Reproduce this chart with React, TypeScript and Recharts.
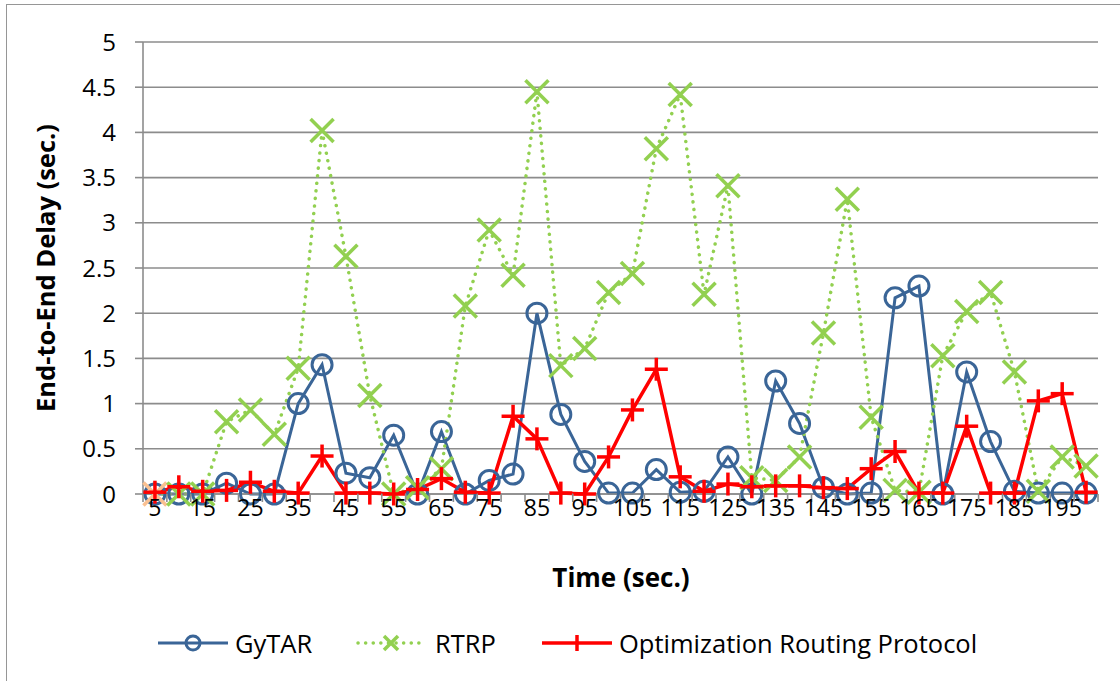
import React from "react";
import { LineChart, Line, XAxis, YAxis, CartesianGrid } from "recharts";

const CATEGORIES = [5, 10, 15, 20, 25, 30, 35, 40, 45, 50, 55, 60, 65, 70, 75, 80, 85, 90, 95, 100, 105, 110, 115, 120, 125, 130, 135, 140, 145, 150, 155, 160, 165, 170, 175, 180, 185, 190, 195, 200];
const GYTAR = [0, 0, 0, 0.12, 0, 0, 1.0, 1.43, 0.23, 0.18, 0.65, 0, 0.69, 0, 0.15, 0.22, 2.0, 0.88, 0.36, 0.01, 0.01, 0.27, 0.02, 0.03, 0.41, 0, 1.25, 0.78, 0.07, 0, 0.01, 2.17, 2.3, 0, 1.35, 0.58, 0.03, 0.01, 0.01, 0.01];
const RTRP = [0, 0, 0, 0.8, 0.93, 0.66, 1.39, 4.02, 2.63, 1.09, 0, 0.07, 0.28, 2.08, 2.92, 2.42, 4.45, 1.42, 1.61, 2.23, 2.44, 3.82, 4.42, 2.21, 3.41, 0.18, 0.15, 0.41, 1.78, 3.26, 0.85, 0.04, 0.02, 1.53, 2.02, 2.23, 1.35, 0.03, 0.41, 0.31];
const ORP = [0.02, 0.08, 0.03, 0.04, 0.13, 0.03, 0.01, 0.42, 0.01, 0.01, 0, 0.05, 0.17, 0.02, 0.01, 0.86, 0.61, 0.01, 0, 0.41, 0.93, 1.38, 0.19, 0.03, 0.11, 0.08, 0.09, 0.09, 0.07, 0.06, 0.28, 0.47, 0.01, 0.01, 0.75, 0.01, 0.01, 1.03, 1.11, 0.02];
const Y_TICKS = [0, 0.5, 1, 1.5, 2, 2.5, 3, 3.5, 4, 4.5, 5];
const SERIES_NAMES = ["GyTAR", "RTRP", "Optimization Routing Protocol"];
const X_TITLE = "Time (sec.)";
const Y_TITLE = "End-to-End Delay (sec.)";

const BLUE = "#3A6597";
const GREEN = "#92D050";
const PEACH = "#FAC090";
const RED = "#FF0000";
const GRID = "#8C8C8C";
const FONT = "'Open Sans', sans-serif";

const data = CATEGORIES.map((t, i) => ({ t, gytar: GYTAR[i], rtrp: RTRP[i], orp: ORP[i] }));

const W = 1120;
const H = 681;
const MARGIN = { top: 42, right: 22, bottom: 147, left: 83 };
const Y_AXIS_W = 60;
const X_AXIS_H = 40;
const PLOT_W = W - MARGIN.left - MARGIN.right - Y_AXIS_W;
const AXIS_Y = H - MARGIN.bottom - X_AXIS_H;
const BAND = PLOT_W / CATEGORIES.length;

const CircleDot = (props: any) => {
  const { cx, cy, index } = props;
  if (cx == null || cy == null) return <g key={`c${index}`} />;
  return <circle key={`c${index}`} cx={cx} cy={cy} r={10} fill="none" stroke={BLUE} strokeWidth={3} />;
};

const CrossDot = (props: any) => {
  const { cx, cy, index } = props;
  if (cx == null || cy == null) return <g key={`x${index}`} />;
  const s = 11.5;
  const c = index === 0 ? PEACH : GREEN;
  return (
    <g key={`x${index}`} stroke={c} strokeWidth={3.5}>
      <line x1={cx - s} y1={cy - s} x2={cx + s} y2={cy + s} />
      <line x1={cx - s} y1={cy + s} x2={cx + s} y2={cy - s} />
    </g>
  );
};

const PlusDot = (props: any) => {
  const { cx, cy, index } = props;
  if (cx == null || cy == null) return <g key={`p${index}`} />;
  const s = 11.5;
  return (
    <g key={`p${index}`} stroke={RED} strokeWidth={3.5}>
      <line x1={cx - s} y1={cy} x2={cx + s} y2={cy} />
      <line x1={cx} y1={cy - s} x2={cx} y2={cy + s} />
    </g>
  );
};

const XTick = (props: any) => {
  const { x, payload, index } = props;
  return (
    <g>
      <line x1={x - BAND / 2} y1={AXIS_Y} x2={x - BAND / 2} y2={AXIS_Y + 8} stroke={GRID} strokeWidth={1.6} />
      {index === CATEGORIES.length - 1 && (
        <line x1={x + BAND / 2} y1={AXIS_Y} x2={x + BAND / 2} y2={AXIS_Y + 8} stroke={GRID} strokeWidth={1.6} />
      )}
      {index % 2 === 0 && (
        <text x={x} y={AXIS_Y + 5} dy="0.75em" textAnchor="middle" fontFamily={FONT} fontSize={23} fill="#000">
          {payload.value}
        </text>
      )}
    </g>
  );
};

export default function App() {
  return (
    <div style={{ position: "absolute", left: 0, top: 0, width: W, height: H, background: "#fff", overflow: "hidden" }}>
      <div style={{ position: "absolute", left: 6, top: 4, width: W, height: H, border: "1.5px solid #969696", boxSizing: "border-box" }} />
      <div style={{ position: "absolute", left: 0, top: 0 }}>
        <LineChart width={W} height={H} data={data} margin={MARGIN}>
          <CartesianGrid horizontal vertical={false} stroke={GRID} strokeWidth={1.6} />
          <XAxis
            dataKey="t"
            type="category"
            interval={0}
            padding={{ left: BAND / 2, right: BAND / 2 }}
            tick={<XTick />}
            tickLine={false}
            height={X_AXIS_H}
            axisLine={{ stroke: GRID, strokeWidth: 1.6 }}
          />
          <YAxis
            domain={[0, 5]}
            ticks={Y_TICKS}
            width={Y_AXIS_W}
            tickSize={8}
            tickMargin={19}
            tickLine={{ stroke: GRID, strokeWidth: 1.6 }}
            axisLine={{ stroke: GRID, strokeWidth: 1.6 }}
            tick={{ fill: "#000", fontSize: 24, fontFamily: FONT }}
            interval={0}
          />
          <Line dataKey="gytar" stroke={BLUE} strokeWidth={3} dot={CircleDot} activeDot={false} isAnimationActive={false} />
          <Line
            dataKey="rtrp"
            stroke={GREEN}
            strokeWidth={3.5}
            strokeDasharray="0.1 7.5"
            strokeLinecap="round"
            dot={CrossDot}
            activeDot={false}
            isAnimationActive={false}
          />
          <Line dataKey="orp" stroke={RED} strokeWidth={3.5} dot={PlusDot} activeDot={false} isAnimationActive={false} />
        </LineChart>
      </div>
      <svg width={W} height={H} style={{ position: "absolute", left: 0, top: 0, pointerEvents: "none" }}>
        <text x={45} y={268} transform="rotate(-90 45 268)" textAnchor="middle" dominantBaseline="central" fontFamily={FONT} fontWeight="bold" fontSize={25.5} fill="#000">
          {Y_TITLE}
        </text>
        <text x={621} y={577} textAnchor="middle" dominantBaseline="central" fontFamily={FONT} fontWeight="bold" fontSize={26} fill="#000">
          {X_TITLE}
        </text>
        <g>
          <line x1={158} y1={643} x2={228} y2={643} stroke={BLUE} strokeWidth={3} />
          <circle cx={193} cy={643} r={7} fill="none" stroke={BLUE} strokeWidth={3} />
          <text x={235} y={643} dominantBaseline="central" fontFamily={FONT} fontSize={25.5} fill="#000">{SERIES_NAMES[0]}</text>
        </g>
        <g>
          <line x1={358} y1={643} x2={425} y2={643} stroke={GREEN} strokeWidth={3.5} strokeDasharray="0.1 7.5" strokeLinecap="round" />
          <g stroke={GREEN} strokeWidth={3.5}>
            <line x1={384} y1={636} x2={398} y2={650} />
            <line x1={384} y1={650} x2={398} y2={636} />
          </g>
          <text x={435} y={643} dominantBaseline="central" fontFamily={FONT} fontSize={25.5} fill="#000">{SERIES_NAMES[1]}</text>
        </g>
        <g>
          <line x1={542} y1={643} x2={612} y2={643} stroke={RED} strokeWidth={3.5} />
          <line x1={577} y1={635} x2={577} y2={651} stroke={RED} strokeWidth={3.5} />
          <text x={619} y={643} dominantBaseline="central" fontFamily={FONT} fontSize={25.5} fill="#000">{SERIES_NAMES[2]}</text>
        </g>
      </svg>
    </div>
  );
}
